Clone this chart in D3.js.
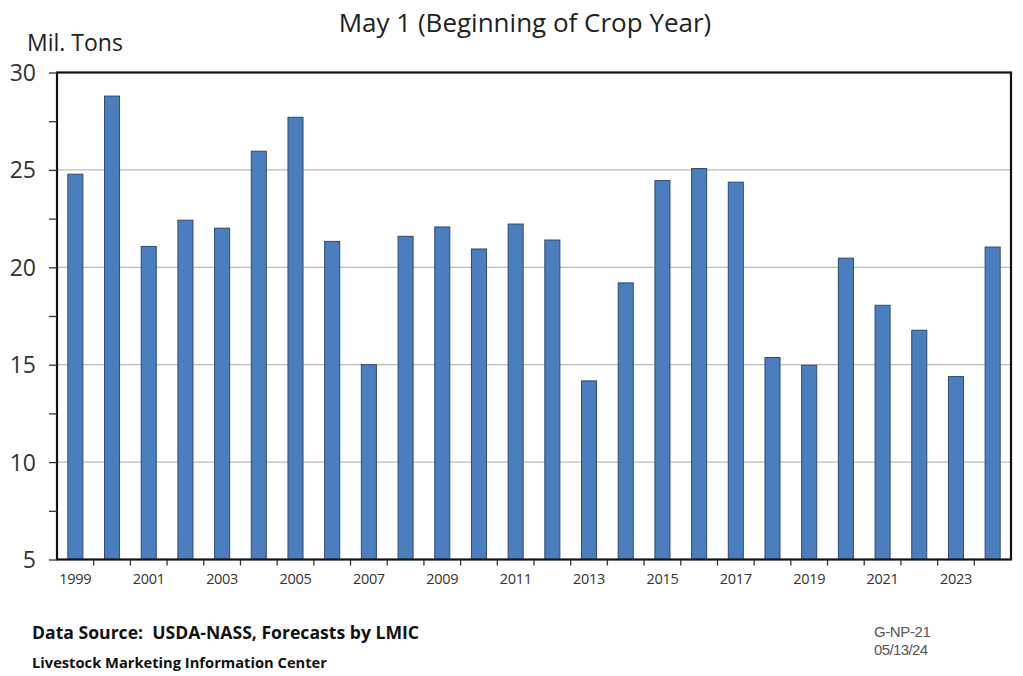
<!DOCTYPE html>
<html>
<head>
<meta charset="utf-8">
<script src="https://cdn.jsdelivr.net/npm/d3@7"></script>
<style>
  html, body { margin: 0; padding: 0; background: #fff; }
  svg { display: block; }
  text { white-space: pre; }
</style>
</head>
<body>
<svg id="chart" width="1023" height="676"></svg>
<script>
const years = d3.range(1999, 2025).map(String);
const values = [24.78, 28.79, 21.07, 22.42, 22.01, 25.96, 27.70, 21.33, 15.0, 21.59,
                22.07, 20.94, 22.22, 21.40, 14.17, 19.2, 24.45, 25.07, 24.37, 15.37,
                14.97, 20.47, 18.05, 16.77, 14.39, 21.04];
const yTickLabels = [5, 10, 15, 20, 25, 30];
const yMinorTicks = d3.range(5, 30.01, 2.5);
const xLabelYears = years.filter((d, i) => i % 2 === 0);

const svg = d3.select("#chart");
const m = { left: 57, right: 1011, top: 72.5, bottom: 559.5 };
const font = "'Open Sans', Lato, sans-serif";

const x = d3.scaleBand().domain(years).range([m.left, m.right]).paddingInner(0.59).paddingOuter(0.295);
const xb = d3.scaleBand().domain(years).range([m.left, m.right]);
const y = d3.scaleLinear().domain([5, 30]).range([m.bottom, m.top]);

// gridlines
svg.append("g").selectAll("line").data([10, 15, 20, 25]).join("line")
  .attr("x1", m.left).attr("x2", m.right)
  .attr("y1", d => y(d)).attr("y2", d => y(d))
  .attr("stroke", "#bdbdbd").attr("stroke-width", 1.2);

// bars
svg.append("g").selectAll("rect").data(years).join("rect")
  .attr("x", d => x(d))
  .attr("width", x.bandwidth())
  .attr("y", (d, i) => y(values[i]))
  .attr("height", (d, i) => y(5) - y(values[i]))
  .attr("fill", "#4A7EBF")
  .attr("stroke", "#2d4a70")
  .attr("stroke-width", 1);

// frame
svg.append("rect")
  .attr("x", m.left).attr("y", m.top)
  .attr("width", m.right - m.left).attr("height", m.bottom - m.top)
  .attr("fill", "none").attr("stroke", "#111").attr("stroke-width", 2.2);

// y axis ticks
const yAxis = d3.axisLeft(y).tickValues(yMinorTicks).tickSize(8).tickFormat(d => yTickLabels.includes(d) ? d : "");
const gy = svg.append("g").attr("transform", `translate(${m.left},0)`).call(yAxis);
gy.select(".domain").remove();
gy.selectAll(".tick line").attr("stroke", "#333").attr("stroke-width", 1.3);
gy.selectAll(".tick text").attr("font-family", font).attr("font-size", 23).attr("fill", "#333")
  .attr("x", -21).attr("dy", "0.35em");

// x axis: tick marks at band boundaries
const gx = svg.append("g");
gx.selectAll("line").data(years.slice(1)).join("line")
  .attr("x1", d => xb(d)).attr("x2", d => xb(d))
  .attr("y1", m.bottom).attr("y2", m.bottom + 6)
  .attr("stroke", "#333").attr("stroke-width", 1.3);
const xAxis = d3.axisBottom(x).tickValues(xLabelYears).tickSize(0).tickPadding(14);
const gxl = svg.append("g").attr("transform", `translate(0,${m.bottom})`).call(xAxis);
gxl.select(".domain").remove();
gxl.selectAll(".tick text").attr("font-family", font).attr("font-size", 14.5).attr("fill", "#333")
  .attr("letter-spacing", -0.3);

// titles
svg.append("text").attr("x", 525).attr("y", 32).attr("text-anchor", "middle")
  .attr("font-family", font).attr("font-size", 26).attr("fill", "#222")
  .text("May 1 (Beginning of Crop Year)");
svg.append("text").attr("x", 27).attr("y", 51)
  .attr("font-family", font).attr("font-size", 23).attr("fill", "#222")
  .text("Mil. Tons");

// footer
svg.append("text").attr("x", 32).attr("y", 639)
  .attr("font-family", font).attr("font-size", 17.6).attr("font-weight", "bold").attr("fill", "#111")
  .text("Data Source:  USDA-NASS, Forecasts by LMIC");
svg.append("text").attr("x", 32).attr("y", 668)
  .attr("font-family", font).attr("font-size", 14.7).attr("font-weight", "bold").attr("fill", "#111")
  .text("Livestock Marketing Information Center");
svg.append("text").attr("x", 874).attr("y", 637)
  .attr("font-family", "'Liberation Sans', Arial, sans-serif").attr("font-size", 15).attr("fill", "#555")
  .attr("letter-spacing", -0.4)
  .text("G-NP-21");
svg.append("text").attr("x", 874).attr("y", 655)
  .attr("font-family", "'Liberation Sans', Arial, sans-serif").attr("font-size", 15).attr("fill", "#555")
  .attr("letter-spacing", -0.6)
  .text("05/13/24");
</script>
</body>
</html>
